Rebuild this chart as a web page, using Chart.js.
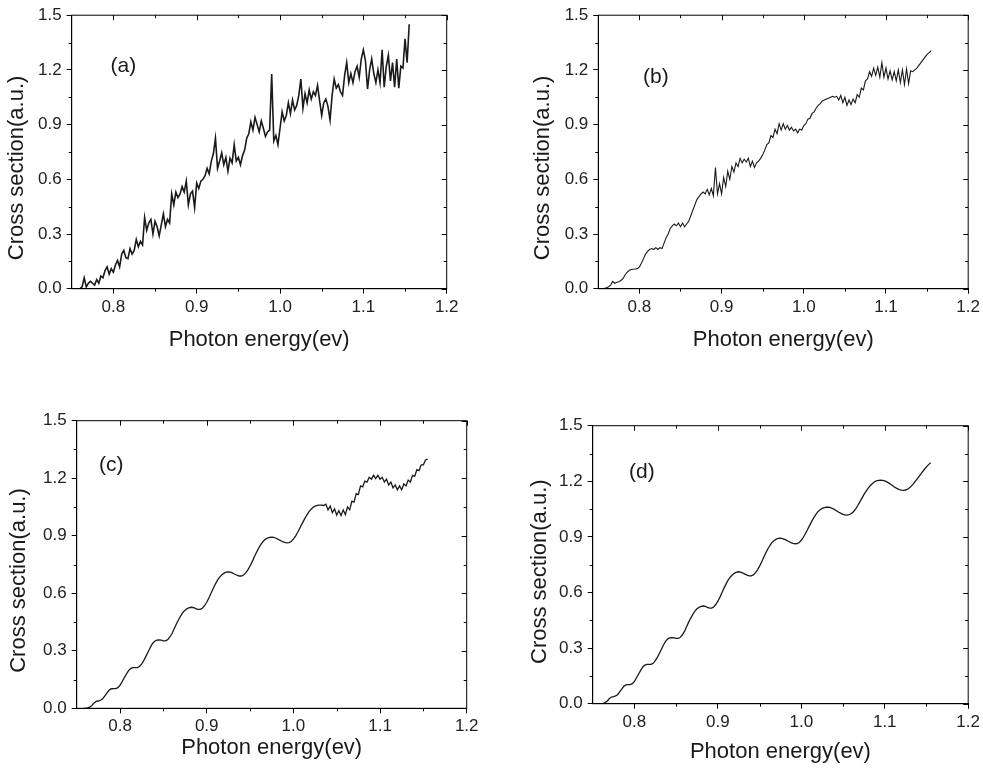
<!DOCTYPE html>
<html>
<head>
<meta charset="utf-8">
<script src="https://cdn.jsdelivr.net/npm/chart.js@4.4.1/dist/chart.umd.min.js"></script>
<style>
  body { margin: 0; background: #fff; }
  #wrap { position: relative; width: 983px; height: 773px; }
  canvas { position: absolute; left: 0; top: 0; }
</style>
</head>
<body>
<div id="wrap">
  <canvas id="chartA" width="983" height="773"></canvas>
  <canvas id="chartB" width="983" height="773"></canvas>
  <canvas id="chartC" width="983" height="773"></canvas>
  <canvas id="chartD" width="983" height="773"></canvas>
</div>
<script>
// photon energy grid (eV), shared by all four panels
const energy = [
  0.7575, 0.76, 0.7625, 0.765, 0.7675, 0.77, 0.7725, 0.775,
  0.7775, 0.78, 0.7825, 0.785, 0.7875, 0.79, 0.7925, 0.795,
  0.7975, 0.8, 0.8025, 0.805, 0.8075, 0.81, 0.8125, 0.815,
  0.8175, 0.82, 0.8225, 0.825, 0.8275, 0.83, 0.8325, 0.835,
  0.8375, 0.84, 0.8425, 0.845, 0.8475, 0.85, 0.8525, 0.855,
  0.8575, 0.86, 0.8625, 0.865, 0.8675, 0.87, 0.8725, 0.875,
  0.8775, 0.88, 0.8825, 0.885, 0.8875, 0.89, 0.8925, 0.895,
  0.8975, 0.9, 0.9025, 0.905, 0.9075, 0.91, 0.9125, 0.915,
  0.9175, 0.92, 0.9225, 0.925, 0.9275, 0.93, 0.9325, 0.935,
  0.9375, 0.94, 0.9425, 0.945, 0.9475, 0.95, 0.9525, 0.955,
  0.9575, 0.96, 0.9625, 0.965, 0.9675, 0.97, 0.9725, 0.975,
  0.9775, 0.98, 0.9825, 0.985, 0.9875, 0.99, 0.9925, 0.995,
  0.9975, 1.0, 1.0025, 1.005, 1.0075, 1.01, 1.0125, 1.015,
  1.0175, 1.02, 1.0225, 1.025, 1.0275, 1.03, 1.0325, 1.035,
  1.0375, 1.04, 1.0425, 1.045, 1.0475, 1.05, 1.0525, 1.055,
  1.0575, 1.06, 1.0625, 1.065, 1.0675, 1.07, 1.0725, 1.075,
  1.0775, 1.08, 1.0825, 1.085, 1.0875, 1.09, 1.0925, 1.095,
  1.0975, 1.1, 1.1025, 1.105, 1.1075, 1.11, 1.1125, 1.115,
  1.1175, 1.12, 1.1225, 1.125, 1.1275, 1.13, 1.1325, 1.135,
  1.1375, 1.14, 1.1425, 1.145, 1.1475, 1.15, 1.1525, 1.155
];

// (a) noisy cross section
const sectionA = [
  0.00, 0.00, 0.01, 0.06, 0.01, 0.03, 0.04, 0.03,
  0.02, 0.05, 0.03, 0.07, 0.06, 0.10, 0.12, 0.08,
  0.11, 0.09, 0.13, 0.155, 0.12, 0.19, 0.21, 0.17,
  0.165, 0.22, 0.19, 0.21, 0.27, 0.23, 0.26, 0.24,
  0.39, 0.32, 0.36, 0.38, 0.30, 0.37, 0.34, 0.29,
  0.35, 0.41, 0.34, 0.38, 0.36, 0.52, 0.46, 0.53,
  0.50, 0.52, 0.56, 0.53, 0.59, 0.46, 0.52, 0.535,
  0.445, 0.58, 0.55, 0.59, 0.60, 0.62, 0.66, 0.63,
  0.70, 0.74, 0.825, 0.66, 0.70, 0.745, 0.68, 0.72,
  0.645, 0.715, 0.69, 0.79, 0.70, 0.72, 0.68, 0.73,
  0.76, 0.825, 0.85, 0.915, 0.87, 0.94, 0.90, 0.86,
  0.92, 0.88, 0.835, 0.86, 0.87, 1.178, 0.81, 0.84,
  0.79, 0.88, 0.97, 0.92, 0.95, 1.02, 0.96, 1.035,
  0.98, 1.005, 1.06, 1.15, 0.99, 1.07, 1.02, 1.09,
  1.04, 1.08, 1.06, 1.115, 1.03, 0.95, 1.02, 1.04,
  1.00, 0.925, 1.06, 1.15, 1.10, 1.12, 1.08, 1.06,
  1.17, 1.24, 1.13, 1.18, 1.13, 1.19, 1.22, 1.16,
  1.26, 1.31, 1.25, 1.095, 1.20, 1.26, 1.18, 1.13,
  1.20, 1.13, 1.31, 1.105, 1.22, 1.28, 1.14, 1.24,
  1.105, 1.26, 1.10, 1.22, 1.21, 1.37, 1.24, 1.45
];

// (b) fast oscillations on top of the steps
const sectionB = [
  0.002, 0.005, 0.01, 0.02, 0.04, 0.03, 0.035, 0.038,
  0.045, 0.055, 0.075, 0.09, 0.10, 0.105, 0.107, 0.108,
  0.11, 0.12, 0.14, 0.165, 0.19, 0.205, 0.215, 0.22,
  0.215, 0.225, 0.215, 0.225, 0.22, 0.25, 0.28, 0.30,
  0.33, 0.345, 0.355, 0.345, 0.36, 0.34, 0.36, 0.34,
  0.355, 0.37, 0.40, 0.43, 0.46, 0.49, 0.505, 0.52,
  0.53, 0.52, 0.545, 0.515, 0.55, 0.51, 0.665, 0.52,
  0.575, 0.52, 0.61, 0.56, 0.645, 0.60, 0.67, 0.64,
  0.69, 0.67, 0.715, 0.69, 0.71, 0.695, 0.715, 0.67,
  0.70, 0.665, 0.69, 0.70, 0.715, 0.735, 0.76, 0.79,
  0.80, 0.84, 0.83, 0.875, 0.85, 0.905, 0.87, 0.905,
  0.875, 0.895, 0.87, 0.885, 0.865, 0.875, 0.855, 0.875,
  0.87, 0.895, 0.905, 0.93, 0.935, 0.96, 0.97, 0.99,
  1.005, 1.015, 1.03, 1.035, 1.04, 1.045, 1.05, 1.055,
  1.05, 1.055, 1.035, 1.06, 1.02, 1.05, 1.005, 1.035,
  1.01, 1.04, 1.02, 1.065, 1.05, 1.10, 1.09, 1.14,
  1.15, 1.19, 1.165, 1.21, 1.17, 1.215, 1.16, 1.24,
  1.16, 1.21, 1.15, 1.195, 1.145, 1.19, 1.14, 1.20,
  1.13, 1.20, 1.12, 1.205, 1.125, 1.195, 1.19, 1.20,
  1.21, 1.225, 1.24, 1.255, 1.27, 1.285, 1.295, 1.305
];

// (c) smooth steps, ripple above ~1.035 eV
const sectionC = [
  0.0, 0.0, 0.002, 0.006, 0.015, 0.028, 0.036, 0.038,
  0.042, 0.05, 0.065, 0.08, 0.095, 0.102, 0.103, 0.103,
  0.108, 0.12, 0.14, 0.16, 0.18, 0.198, 0.208, 0.212,
  0.212, 0.212, 0.218, 0.232, 0.25, 0.272, 0.295, 0.318,
  0.338, 0.35, 0.355, 0.357, 0.355, 0.352, 0.352, 0.358,
  0.372, 0.39, 0.415, 0.44, 0.462, 0.482, 0.5, 0.512,
  0.52, 0.525, 0.527, 0.525, 0.52, 0.516, 0.516, 0.522,
  0.535, 0.553, 0.575, 0.6, 0.625, 0.648, 0.668, 0.684,
  0.696, 0.705, 0.71, 0.712, 0.71, 0.705, 0.699, 0.694,
  0.69, 0.69, 0.695, 0.706, 0.722, 0.742, 0.765, 0.79,
  0.814, 0.836, 0.855, 0.87, 0.881, 0.888, 0.892, 0.893,
  0.891, 0.887, 0.881, 0.875, 0.869, 0.865, 0.863, 0.864,
  0.87, 0.882, 0.898, 0.918, 0.94, 0.962, 0.984, 1.004,
  1.022, 1.036, 1.047, 1.054, 1.058, 1.06, 1.06, 1.058,
  1.065, 1.035, 1.055, 1.02, 1.04, 1.008, 1.03, 1.005,
  1.035, 1.01, 1.05, 1.035, 1.08, 1.075, 1.12, 1.115,
  1.16, 1.155, 1.185, 1.18, 1.205, 1.195, 1.215, 1.198,
  1.215, 1.195, 1.205, 1.18, 1.195, 1.165, 1.18, 1.15,
  1.165, 1.14, 1.16, 1.14, 1.17, 1.16, 1.19, 1.18,
  1.215, 1.21, 1.245, 1.24, 1.27, 1.27, 1.295, 1.30
];

// (d) smooth steps
const sectionD = [
  0.0, 0.0, 0.002, 0.006, 0.015, 0.028, 0.036, 0.038,
  0.042, 0.05, 0.065, 0.08, 0.095, 0.102, 0.103, 0.103,
  0.108, 0.12, 0.14, 0.16, 0.18, 0.198, 0.208, 0.212,
  0.212, 0.212, 0.218, 0.232, 0.25, 0.272, 0.295, 0.318,
  0.338, 0.35, 0.355, 0.357, 0.355, 0.352, 0.352, 0.358,
  0.372, 0.39, 0.415, 0.44, 0.462, 0.482, 0.5, 0.512,
  0.52, 0.525, 0.527, 0.525, 0.52, 0.516, 0.516, 0.522,
  0.535, 0.553, 0.575, 0.6, 0.625, 0.648, 0.668, 0.684,
  0.696, 0.705, 0.71, 0.712, 0.71, 0.705, 0.699, 0.694,
  0.69, 0.69, 0.695, 0.706, 0.722, 0.742, 0.765, 0.79,
  0.814, 0.836, 0.855, 0.87, 0.881, 0.888, 0.892, 0.893,
  0.891, 0.887, 0.881, 0.875, 0.869, 0.865, 0.863, 0.864,
  0.87, 0.882, 0.898, 0.918, 0.94, 0.962, 0.984, 1.004,
  1.022, 1.036, 1.047, 1.054, 1.058, 1.06, 1.06, 1.058,
  1.053, 1.047, 1.04, 1.033, 1.027, 1.022, 1.019, 1.018,
  1.02, 1.026, 1.036, 1.05, 1.068, 1.088, 1.108, 1.128,
  1.146, 1.162, 1.176, 1.187, 1.196, 1.202, 1.205, 1.206,
  1.205, 1.202, 1.197, 1.19, 1.183, 1.175, 1.167, 1.16,
  1.155, 1.152, 1.151, 1.153, 1.158, 1.166, 1.177, 1.19,
  1.205, 1.22, 1.235, 1.25, 1.265, 1.278, 1.29, 1.30
];

const xTicks = [0.8, 0.9, 1.0, 1.1, 1.2];
const xMinor = [0.85, 0.95, 1.05, 1.15];
const yTicks = [0.0, 0.3, 0.6, 0.9, 1.2, 1.5];
const yMinor = [0.15, 0.45, 0.75, 1.05, 1.35];
const xTitle = "Photon energy(ev)";
const yTitle = "Cross section(a.u.)";

const FONT = '"Liberation Sans", Arial, sans-serif';

// plot box of each panel in page pixels, and where its texts sit
const panels = [
  { id: "chartA", tag: "(a)", values: sectionA, lw: 1.6,
    box: { l: 71.7, t: 12.3, r: 446.7, b: 288.7 },
    tagAt: [0.812, 1.22], xTitleDy: 51, yTitleDx: 55, yTitleDy: 16 },
  { id: "chartB", tag: "(b)", values: sectionB, lw: 1.1,
    box: { l: 598.3, t: 12.3, r: 973.3, b: 288.7 },
    tagAt: [0.82, 1.16], xTitleDy: 51, yTitleDx: 55, yTitleDy: 16 },
  { id: "chartC", tag: "(c)", values: sectionC, lw: 1.3,
    box: { l: 76.7, t: 420.7, r: 466.7, b: 708.3 },
    tagAt: [0.79, 1.27], xTitleDy: 40, yTitleDx: 58, yTitleDy: 16 },
  { id: "chartD", tag: "(d)", values: sectionD, lw: 1.3,
    box: { l: 592.7, t: 425.7, r: 970.7, b: 703.7 },
    tagAt: [0.809, 1.25], xTitleDy: 48, yTitleDx: 53, yTitleDy: 7 }
];

// frame, minor ticks, mirrored ticks, axis titles and panel tag
const framePlugin = {
  id: "frame",
  afterDraw(chart, args, opts) {
    const { ctx, chartArea: a, scales: { x, y } } = chart;
    ctx.save();
    ctx.strokeStyle = "#000";
    ctx.lineWidth = 1;
    ctx.strokeRect(a.left, a.top, a.right - a.left, a.bottom - a.top);
    ctx.beginPath();
    xMinor.forEach(v => {
      const px = Math.round(x.getPixelForValue(v)) + 0.5;
      ctx.moveTo(px, a.bottom); ctx.lineTo(px, a.bottom + 3);
      ctx.moveTo(px, a.top); ctx.lineTo(px, a.top + 3);
    });
    xTicks.forEach(v => {
      const px = Math.round(x.getPixelForValue(v)) + 0.5;
      ctx.moveTo(px, a.top); ctx.lineTo(px, a.top + 5);
    });
    yMinor.forEach(v => {
      const py = Math.round(y.getPixelForValue(v)) + 0.5;
      ctx.moveTo(a.left - 3, py); ctx.lineTo(a.left, py);
      ctx.moveTo(a.right - 3, py); ctx.lineTo(a.right, py);
    });
    yTicks.forEach(v => {
      const py = Math.round(y.getPixelForValue(v)) + 0.5;
      ctx.moveTo(a.right - 5, py); ctx.lineTo(a.right, py);
    });
    ctx.stroke();

    const p = opts.panel;
    ctx.fillStyle = "#1a1a1a";
    ctx.font = "22px " + FONT;
    ctx.textAlign = "center";
    ctx.textBaseline = "middle";
    ctx.fillText(xTitle, (a.left + a.right) / 2, a.bottom + p.xTitleDy);
    ctx.save();
    ctx.translate(a.left - p.yTitleDx, (a.top + a.bottom) / 2 + p.yTitleDy);
    ctx.rotate(-Math.PI / 2);
    ctx.fillText(yTitle, 0, 0);
    ctx.restore();
    ctx.font = "21px " + FONT;
    ctx.fillText(p.tag, x.getPixelForValue(p.tagAt[0]), y.getPixelForValue(p.tagAt[1]));
    ctx.restore();
  }
};

panels.forEach(p => {
  const points = energy.map((e, i) => ({ x: e, y: p.values[i] }));
  new Chart(document.getElementById(p.id), {
    type: "line",
    data: {
      datasets: [{
        data: points,
        borderColor: "#1a1a1a",
        borderWidth: p.lw,
        pointRadius: 0,
        tension: 0,
        fill: false
      }]
    },
    options: {
      responsive: false,
      animation: false,
      devicePixelRatio: 1,
      layout: { padding: { left: 0, top: p.box.t, right: 983 - p.box.r, bottom: 0 } },
      plugins: { legend: { display: false }, tooltip: { enabled: false }, frame: { panel: p } },
      scales: {
        x: {
          type: "linear",
          min: 0.75,
          max: 1.2,
          afterBuildTicks: s => { s.ticks = xTicks.map(v => ({ value: v })); },
          afterFit: s => { s.height = 773 - p.box.b; },
          ticks: {
            color: "#222",
            font: { family: FONT, size: 17 },
            padding: 3,
            maxRotation: 0,
            callback: v => v.toFixed(1)
          },
          grid: { drawOnChartArea: false, tickLength: 5, color: "#000" },
          border: { display: true, color: "#000", width: 1 }
        },
        y: {
          min: 0,
          max: 1.5,
          afterBuildTicks: s => { s.ticks = yTicks.map(v => ({ value: v })); },
          afterFit: s => { s.width = p.box.l; },
          ticks: {
            color: "#222",
            font: { family: FONT, size: 17 },
            padding: 5,
            callback: v => v.toFixed(1)
          },
          grid: { drawOnChartArea: false, tickLength: 5, color: "#000" },
          border: { display: true, color: "#000", width: 1 }
        }
      }
    },
    plugins: [framePlugin]
  });
});
</script>
</body>
</html>
